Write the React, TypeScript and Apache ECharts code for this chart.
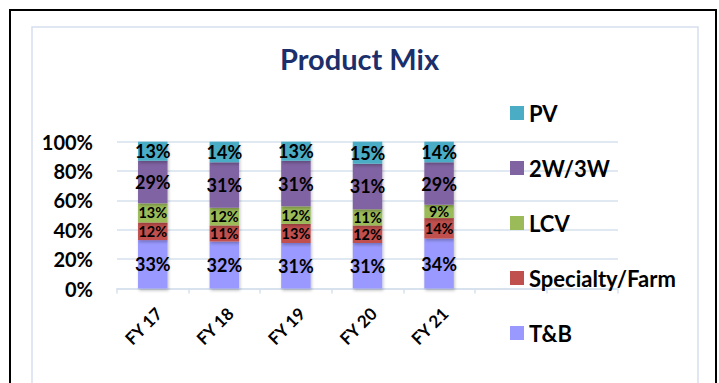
import React, { useEffect, useRef } from "react";
import * as echarts from "echarts";

const categories = ["FY 17", "FY 18", "FY 19", "FY 20", "FY 21", "", ""];
const tb = [33, 32, 31, 31, 34];
const specialty = [12, 11, 13, 12, 14];
const lcv = [13, 12, 12, 11, 9];
const twoThree = [29, 31, 31, 31, 29];
const pv = [13, 14, 13, 15, 14];
const yTicks = [0, 20, 40, 60, 80, 100];

const FONT = "Lato, 'Open Sans', sans-serif";

export default function App() {
  const ref = useRef<HTMLDivElement>(null);
  useEffect(() => {
    const chart = echarts.init(ref.current!, null, { renderer: "svg" });
    const mk = (name: string, data: number[], color: string, big: boolean) => ({
      name,
      type: "bar",
      stack: "total",
      barWidth: 29.5,
      data,
      itemStyle: {
        color,
        shadowBlur: 3,
        shadowColor: "rgba(0,0,0,0.25)",
        shadowOffsetX: 1,
        shadowOffsetY: 2,
      },
      label: {
        show: true,
        position: "inside",
        formatter: "{c}%",
        color: "#000",
        fontFamily: FONT,
        fontWeight: "bold",
        fontSize: big ? 18 : 14.5,
      },
    });
    chart.setOption({
      animation: false,
      backgroundColor: "#fff",
      title: {
        text: "Product Mix",
        left: "center",
        top: 38.5,
        textStyle: { fontFamily: FONT, fontWeight: "bold", fontSize: 29, color: "#1A2F6B" },
      },
      graphic: [
        {
          type: "rect",
          shape: { x: 32, y: 27, width: 666, height: 400 },
          style: { fill: "none", stroke: "#D6E0EE", lineWidth: 1.5 },
          silent: true,
        },
        {
          type: "rect",
          shape: { x: 10, y: 10, width: 706, height: 420 },
          style: { fill: "none", stroke: "#000", lineWidth: 2 },
          silent: true,
        },
      ],
      legend: {
        orient: "vertical",
        left: 505,
        top: 97,
        itemWidth: 14,
        itemHeight: 14,
        itemGap: 33,
        icon: "rect",
        data: ["PV", "2W/3W", "LCV", "Specialty/Farm", "T&B"],
        textStyle: { fontFamily: FONT, fontWeight: "bold", fontSize: 22, color: "#000" },
      },
      grid: { left: 117, right: 101, top: 141.7, bottom: 94.5 },
      xAxis: {
        type: "category",
        data: categories,
        axisLine: { lineStyle: { color: "#D6E0EE", width: 1.5 } },
        axisTick: { show: true, alignWithLabel: false, length: 5, lineStyle: { color: "#D6E0EE", width: 1.5 } },
        axisLabel: {
          rotate: 45,
          interval: 0,
          margin: 16,
          verticalAlign: "top",
          fontFamily: FONT,
          fontWeight: "bold",
          fontSize: 17,
          color: "#000",
        },
      },
      yAxis: {
        type: "value",
        min: yTicks[0],
        max: yTicks[yTicks.length - 1],
        interval: yTicks[1] - yTicks[0],
        axisLine: { show: false },
        axisTick: { show: false },
        splitLine: { lineStyle: { color: "#D6E0EE", width: 1.5 } },
        axisLabel: {
          formatter: "{value}%",
          margin: 24,
          fontFamily: FONT,
          fontWeight: "bold",
          fontSize: 20,
          color: "#000",
        },
      },
      series: [
        mk("T&B", tb, "#9999FF", true),
        mk("Specialty/Farm", specialty, "#C0504D", false),
        mk("LCV", lcv, "#9BBB59", false),
        mk("2W/3W", twoThree, "#8064A2", true),
        mk("PV", pv, "#4BACC6", true),
      ],
    });
    return () => chart.dispose();
  }, []);
  return (
    <div
      ref={ref}
      style={{ position: "absolute", left: 0, top: 0, width: 719, height: 383 }}
    />
  );
}
